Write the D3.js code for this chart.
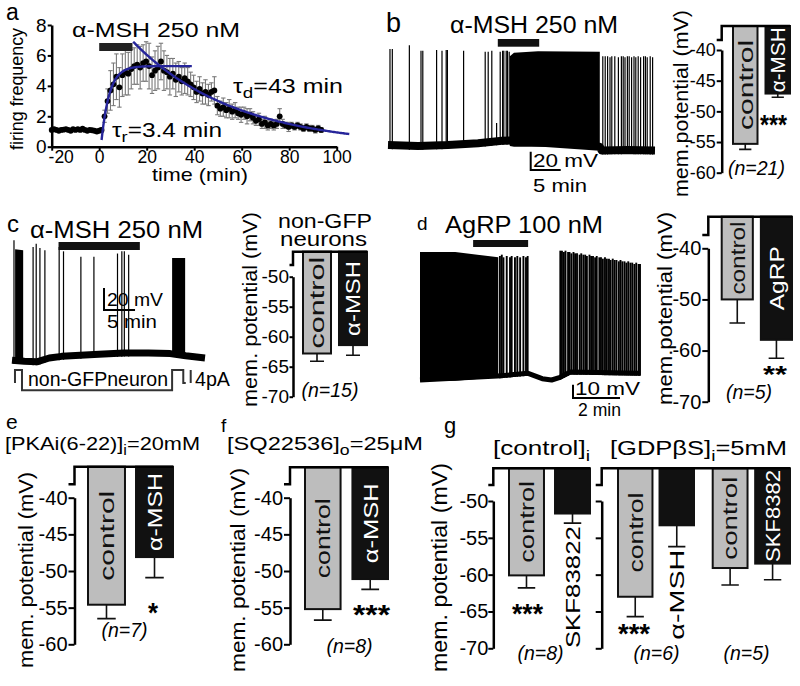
<!DOCTYPE html>
<html>
<head>
<meta charset="utf-8">
<script src="https://cdn.jsdelivr.net/npm/d3@7"></script>
<style>
  body { margin: 0; background: #fff; }
  svg { display: block; font-family: "Liberation Sans", Arial, Helvetica, sans-serif; }
</style>
</head>
<body>
<svg id="fig" width="800" height="686"></svg>
<script>
// ---------------- data: panel a, firing frequency (Hz) ----------------
const aBaseTime = d3.range(-20, 1);
const aBaseFreq = [1.1, 1.15, 1.1, 1.05, 1.1, 1.12, 1.15, 1.1, 1.05, 1.15, 1.1,
  1.15, 1.1, 1.18, 1.1, 1.05, 1.1, 1.08, 1.05, 1.0, 1.05];
const aPostTime = d3.range(1, 94, 1.25);
const aPostFreq = [1.1, 2.0, 3.0, 3.7, 4.1, 4.6, 3.9, 4.7, 4.9, 4.8,
  5.1, 5.3, 5.4, 5.2, 5.5, 5.6, 5.3, 4.7, 5.0, 5.2,
  5.6, 5.0, 4.9, 4.6, 4.8, 4.4, 4.6, 4.3, 4.5, 4.3,
  4.1, 3.9, 3.6, 3.8, 3.5, 3.6, 3.4, 3.6, 3.7, 2.7,
  2.5, 2.6, 2.4, 2.5, 2.3, 2.4, 2.2, 2.1, 2.2, 2.0,
  2.1, 1.9, 1.7, 1.8, 1.5, 1.6, 1.4, 1.5, 1.4, 1.5,
  2.0, 1.5, 1.4, 1.3, 1.4, 1.3, 1.4, 1.3, 1.2, 1.3,
  1.2, 1.2, 1.1, 1.2, 1.1];
const aPostSem = [0.15, 0.4, 0.8,
  1.3, 1.4, 1.5, 1.3, 1.4, 1.5, 1.4, 1.3,
  1.2, 1.3, 1.4, 1.2, 1.3, 1.5, 1.2, 1.3, 1.4, 1.2, 1.3, 1.1, 1.2, 1.0, 1.1, 1.0, 0.9, 1.0, 0.9, 0.8,
  0.8, 0.7, 0.8, 0.7, 0.8, 0.7, 0.6, 0.9,
  0.6, 0.5, 0.6, 0.5, 0.6, 0.5, 0.5, 0.4, 0.5, 0.4, 0.5, 0.4,
  0.4, 0.3, 0.4, 0.3, 0.4, 0.3, 0.3, 0.3, 0.3, 0.5,
  0.3, 0.2, 0.3, 0.2, 0.2, 0.2, 0.2, 0.2, 0.2, 0.2, 0.2, 0.2, 0.2, 0.15];
const aDrug = [0, 14];
const tauRise = 3.4, riseStart = 1, riseBase = 0.44, riseAmp = 4.86, riseEnd = 39;
const tauDecay = 43, decayStart = 14.3, decayAmp = 6.9, decayEnd = 105.5;
const aXTicks = [-20, 0, 20, 40, 60, 80, 100];
const aYTicks = [0, 2, 4, 6, 8];

// ---------------- data: recordings (time in min, potential in mV) ----------------
const bBase = [[0, -55], [5, -56], [10, -55], [15, -53], [19, -50.3], [20.3, -50], [35.3, -57], [35.6, -61], [40, -60.5], [44.5, -61]];
const bSpikes = [0.33, 0.72, 3.56, 5.5, 5.8, 8.1, 9.0, 9.7, 9.9, 12.6, 16.2, 16.7, 17.3, 18.1, 18.7, 19.1, 19.3, 19.7, 19.9, 20.2,
  35.8, 36.2, 36.6, 37.0, 37.3, 37.8, 38.4, 38.9, 39.2, 39.5, 39.9, 40.2, 40.6, 41.0, 41.3, 41.7, 42.1, 42.6, 42.9, 43.2, 43.7, 44.1];
const bPeaks = [50, 50, 54, 48, 48, 49, 48, 49, 49, 48, 47, 47, 48, -31, 47, 48, 48, 48, 48, 47,
  42, 42, 42, 41, 42, 42, 41, 42, 42, 41, 42, 42, 41, 42, 41, 42, 41, 42, 42, 41, 42, 41];
const bBursts = [[[20.3, 42, -56], [21, 46, -57], [25, 47.5, -57], [35.3, 47, -57]]];
const bDrug = [18.3, 25.2];

const cBase = [[0, -64], [2, -65], [4, -65.5], [6, -62], [8, -60.5], [11, -59.5], [14, -58.5], [18, -57.5], [22, -57.5], [25.5, -58], [28, -60], [31.1, -62]];
const cSpikes = [0.32, 3.4, 3.9, 4.5, 5.3, 7.6, 8.3, 11.1, 13.2, 17.0, 17.7, 18.1, 18.8];
const cPeaks = [45, 39, 42, 38, 36, 39, 35, 30, 30, 33, 35, 35, 32];
const cBursts = [[[0.5, 37, -66], [1.8, 36, -66]], [[25.8, 29, -59], [27.9, 29, -59]]];
const cDrug = [7.5, 20.6];
const cCurrent = [[0.48, 0], [0.48, 4], [1.61, 4], [1.61, -2.2], [25.8, -2.2], [25.8, 4], [27.6, 4], [27.6, 0], [28, 0]];

const dBase = [[0, -62], [3.3, -59], [4.6, -57], [5.2, -61], [5.6, -62], [5.96, -60], [6.4, -56], [9.36, -57]];
const dSpikes = [3.40, 3.48, 3.55, 3.69, 3.83, 3.90, 4.04, 4.14, 4.26, 4.40, 4.51, 4.58,
  5.97, 6.04, 6.12, 6.19, 6.30, 6.36, 6.44, 6.53, 6.60, 6.68, 6.79, 6.86, 6.95, 7.03, 7.10, 7.21, 7.28, 7.36, 7.45, 7.52,
  7.63, 7.70, 7.78, 7.87, 7.95, 8.04, 8.11, 8.20, 8.28, 8.36, 8.46, 8.53, 8.61, 8.70, 8.78, 8.86, 8.95, 9.03, 9.12, 9.20, 9.30, 9.36];
const dPeaks = [31, 32, 30, 31, 30, 31, 30, 31, 30, 31, 30, 31,
  35, 35, 34, 35, 34, 34, 33, 34, 33, 33, 32, 33, 32, 32, 31, 32, 31, 31, 30, 31,
  30, 30, 29, 30, 29, 29, 28, 29, 28, 28, 27, 28, 27, 27, 26, 27, 26, 26, 25, 26, 25, 25];
const dBursts = [[[0, 34, -63], [1.5, 34, -62.5], [3.33, 30, -60]]];
const dDrug = [2.26, 4.6];

// ---------------- data: membrane potential bars (mV) ----------------
const bNames = ['control', 'α-MSH'], bMean = [-55.3, -47.1], bSem = [0.9, 0.6];
const cNames = ['control', 'α-MSH'], cMean = [-62.8, -61.4], cSem = [1.3, 1.7];
const dNames = ['control', 'AgRP'], dMean = [-50.0, -57.9], dSem = [4.6, 3.6];
const eNames = ['control', 'α-MSH'], eMean = [-54.6, -48.1], eSem = [1.9, 2.8];
const fNames = ['control', 'α-MSH'], fMean = [-55.2, -51.1], fSem = [1.5, 1.4];
const g1Names = ['control', 'SKF83822'], g1Mean = [-60.1, -51.7], g1Sem = [1.7, 1.3];
const g2Names = ['control', 'α-MSH'], g2Mean = [-63.0, -53.3], g2Sem = [2.7, 2.9];
const g3Names = ['control', 'SKF8382'], g3Mean = [-59.1, -58.5], g3Sem = [2.3, 2.2];
const ticks5_40_60 = [-40, -45, -50, -55, -60];
const ticks5_50_70 = [-50, -55, -60, -65, -70];
const ticks10_40_70 = [-40, -50, -60, -70];

// ---------------- drawing ----------------
const svg = d3.select('#fig');

function label(g, parts, x, y, o = {}) {
  const fs = o.fs || 19;
  const t = g.append('text').attr('x', x).attr('y', y)
    .attr('font-size', fs)
    .attr('text-anchor', o.anchor || 'start')
    .attr('fill', o.fill || '#000');
  if (o.italic) t.attr('font-style', 'italic');
  if (o.bold) t.attr('font-weight', 'bold');
  if (typeof parts === 'string') t.text(parts);
  else {
    let down = false;
    parts.forEach(([s, sub]) => {
      const sp = t.append('tspan').text(s);
      if (sub) {
        sp.attr('font-size', fs * 0.75);
        if (!down) { sp.attr('dy', fs * 0.28); down = true; }
      } else if (down) { sp.attr('dy', -fs * 0.28); down = false; }
    });
  }
  if (o.len) t.attr('textLength', o.len).attr('lengthAdjust', 'spacingAndGlyphs');
  if (o.rot) t.attr('transform', `rotate(-90,${x},${y})`);
  return t;
}

function styleAxis(g, fs, w) {
  g.attr('font-family', null).attr('font-size', null);
  g.select('.domain').attr('stroke-width', w || 2.5).attr('stroke', '#000');
  g.selectAll('.tick line').attr('stroke-width', 2).attr('stroke', '#000');
  g.selectAll('.tick text').attr('font-size', fs).attr('fill', '#000');
}

// ===== panel a =====
{
  const g = svg.append('g');
  const x = d3.scaleLinear().domain([-20, 100]).range([51.7, 336.7]);
  const y = d3.scaleLinear().domain([0, 8]).range([146.7, 25]);
  const post = aPostTime.map((t, i) => ({ t, v: aPostFreq[i], s: aPostSem[i] }));
  const base = aBaseTime.map((t, i) => ({ t, v: aBaseFreq[i] }));

  const eb = g.append('g').attr('stroke', '#7a7a7a').attr('stroke-width', 1.1);
  post.forEach(d => {
    const cx = x(d.t), y1 = y(d.v + d.s), y0 = y(d.v - d.s);
    eb.append('line').attr('x1', cx).attr('x2', cx).attr('y1', y1).attr('y2', y0);
    eb.append('line').attr('x1', cx - 2.2).attr('x2', cx + 2.2).attr('y1', y1).attr('y2', y1);
    eb.append('line').attr('x1', cx - 2.2).attr('x2', cx + 2.2).attr('y1', y0).attr('y2', y0);
  });
  g.selectAll(null).data(base.concat(post)).join('circle')
    .attr('cx', d => x(d.t)).attr('cy', d => y(d.v)).attr('r', 2.9).attr('fill', '#000');

  const riseFit = d3.range(riseStart, riseEnd + 0.01, 0.25)
    .map(t => [t, riseBase + riseAmp * (1 - Math.exp(-(t - riseStart) / tauRise))]);
  const decayFit = d3.range(decayStart, decayEnd + 0.01, 0.5)
    .map(t => [t, decayAmp * Math.exp(-(t - decayStart) / tauDecay)]);
  const line = d3.line().x(d => x(d[0])).y(d => y(d[1]));
  [riseFit, decayFit].forEach(f => g.append('path').datum(f).attr('d', line)
    .attr('fill', 'none').attr('stroke', '#26259a').attr('stroke-width', 2.4));

  const xa = g.append('g').attr('transform', 'translate(0,146.7)')
    .call(d3.axisBottom(x).tickValues(aXTicks).tickSize(4).tickSizeOuter(0).tickPadding(0).tickFormat(String));
  styleAxis(xa, 17.5);
  // the first label sits right of the y axis, as in the original
  xa.selectAll('.tick text').filter(d => d === aXTicks[0]).attr('dx', 9);
  const ya = g.append('g').attr('transform', 'translate(51.7,0)')
    .call(d3.axisLeft(y).tickValues(aYTicks).tickSize(4).tickSizeOuter(0).tickPadding(1).tickFormat(String));
  styleAxis(ya, 19);

  g.append('rect').attr('x', x(aDrug[0])).attr('width', x(aDrug[1]) - x(aDrug[0]))
    .attr('y', 43).attr('height', 8).attr('fill', '#222');

  label(g, 'a', 6, 20, { fs: 23 });
  label(g, 'α-MSH 250 nM', 72, 37, { fs: 19.5, len: 168 });
  label(g, [['τ'], ['d', 1], ['=43 min']], 233, 93, { fs: 19.5, len: 110 });
  label(g, [['τ'], ['r', 1], ['=3.4 min']], 112, 137, { fs: 19.5, len: 110 });
  label(g, 'firing frequency', 23, 89, { fs: 18, len: 122, anchor: 'middle', rot: true });
  label(g, 'time (min)', 200, 181, { fs: 19, len: 96, anchor: 'middle' });
}

// ===== recordings =====
function drawTrace(g, xs, ys, base, spikes, peaks, bursts, baseW, spikeW) {
  const baseAt = d3.scaleLinear().domain(base.map(d => d[0])).range(base.map(d => d[1]));
  g.append('path').datum(base)
    .attr('d', d3.line().x(d => xs(d[0])).y(d => ys(d[1])))
    .attr('fill', 'none').attr('stroke', '#000').attr('stroke-width', baseW).attr('stroke-linejoin', 'round');
  bursts.forEach(b => g.append('path').datum(b)
    .attr('d', d3.area().x(d => xs(d[0])).y0(d => ys(d[2])).y1(d => ys(d[1])))
    .attr('fill', '#000'));
  g.selectAll(null).data(spikes).join('line')
    .attr('x1', d => xs(d)).attr('x2', d => xs(d))
    .attr('y1', d => ys(baseAt(d)) + baseW / 2).attr('y2', (d, i) => ys(peaks[i]))
    .attr('stroke', '#000').attr('stroke-width', spikeW || 1.3);
}

function scaleBar(g, x0, y0, w, h) {
  g.append('path').attr('d', `M${x0},${y0 - h}V${y0}H${x0 + w}`)
    .attr('fill', 'none').attr('stroke', '#000').attr('stroke-width', 2);
}

// panel b trace
{
  const g = svg.append('g');
  const x = d3.scaleLinear().domain([0, 44.5]).range([388, 655]);
  const y = d3.scaleLinear().domain([-55, 50]).range([145, 49]);
  drawTrace(g, x, y, bBase, bSpikes, bPeaks, bBursts, 8, 1.2);
  g.append('rect').attr('x', x(bDrug[0])).attr('width', x(bDrug[1]) - x(bDrug[0]))
    .attr('y', 39).attr('height', 7.7).attr('fill', '#111');
  scaleBar(g, 530.7, 170, x(5) - x(0), y(-20) - y(0));
  label(g, 'b', 386, 32, { fs: 27 });
  label(g, 'α-MSH 250 nM', 450, 33.3, { fs: 23, len: 168 });
  label(g, '20 mV', 533, 166.7, { fs: 19, len: 65 });
  label(g, '5 min', 533, 191.7, { fs: 19, len: 54 });
}

// panel c trace
{
  const g = svg.append('g');
  const x = d3.scaleLinear().domain([0, 31.1]).range([12, 205]);
  const y = d3.scaleLinear().domain([-62, 45.3]).range([358, 240]);
  drawTrace(g, x, y, cBase, cSpikes, cPeaks, cBursts, 7, 1.2);
  g.append('rect').attr('x', x(cDrug[0])).attr('width', x(cDrug[1]) - x(cDrug[0]))
    .attr('y', 242).attr('height', 8).attr('fill', '#111');
  scaleBar(g, 104, 310, x(5) - x(0), y(-20) - y(0));
  const yi = d3.scaleLinear().domain([0, 4]).range([383, 370]);
  g.append('path').datum(cCurrent).attr('d', d3.line().x(d => x(d[0])).y(d => yi(d[1])))
    .attr('fill', 'none').attr('stroke', '#333').attr('stroke-width', 2);
  g.append('line').attr('x1', 190.7).attr('x2', 190.7).attr('y1', yi(0)).attr('y2', yi(4))
    .attr('stroke', '#333').attr('stroke-width', 2);
  label(g, 'c', 7, 232, { fs: 24 });
  label(g, 'α-MSH 250 nM', 30, 238.3, { fs: 23, len: 173 });
  label(g, '20 mV', 107, 305.7, { fs: 19, len: 56 });
  label(g, '5 min', 107, 327.7, { fs: 19, len: 50 });
  label(g, 'non-GFPneuron', 28, 386, { fs: 21, len: 140 });
  label(g, '4pA', 195, 386, { fs: 21, len: 35 });
}

// panel d trace
{
  const g = svg.append('g');
  const x = d3.scaleLinear().domain([0, 9.36]).range([420, 640]);
  const y = d3.scaleLinear().domain([-62, 34]).range([380, 252]);
  drawTrace(g, x, y, dBase, dSpikes, dPeaks, dBursts, 5, 1.9);
  g.append('rect').attr('x', x(dDrug[0])).attr('width', x(dDrug[1]) - x(dDrug[0]))
    .attr('y', 240).attr('height', 7).attr('fill', '#111');
  scaleBar(g, 573, 398, x(2) - x(0), y(-10) - y(0));
  label(g, 'd', 417, 230, { fs: 19 });
  label(g, 'AgRP 100 nM', 445, 233.3, { fs: 23, len: 158 });
  label(g, '10 mV', 575, 395, { fs: 19, len: 65 });
  label(g, '2 min', 578, 416, { fs: 18.5, len: 43 });
}

// ===== bar charts =====
function drawBarAxis(a, y) {
  const g = svg.append('g');
  const axis = d3.axisLeft(y).tickValues(a.ticks).tickSize(a.tick).tickSizeOuter(0).tickPadding(a.pad)
    .tickFormat(a.labels ? String : '');
  const ag = g.append('g').attr('transform', `translate(${a.x},0)`).call(axis);
  styleAxis(ag, a.fs);
  g.append('path').attr('d', `M${a.x - a.tick},${a.brk}H${a.x}V${a.top}H${a.end}`)
    .attr('fill', 'none').attr('stroke', '#000').attr('stroke-width', 2.5);
}

function drawBars(y, a, p) {
  const g = svg.append('g');
  const xb = d3.scaleBand().domain(p.names).range(p.range).paddingInner(p.gap).paddingOuter(0);
  const w = xb.bandwidth();
  p.names.forEach((name, i) => {
    const x0 = xb(name), cx = x0 + w / 2;
    const yb = y(p.mean[i]), ye = y(p.mean[i] - p.sem[i]);
    const grey = name === 'control';
    g.append('rect').attr('x', x0).attr('y', a.top).attr('width', w).attr('height', yb - a.top)
      .attr('fill', grey ? '#bdbdbd' : '#111').attr('stroke', '#111').attr('stroke-width', 2);
    g.append('path').attr('d', `M${cx},${yb}V${ye}M${cx - w * 0.25},${ye}H${cx + w * 0.25}`)
      .attr('stroke', '#111').attr('stroke-width', 1.6).attr('fill', 'none');
    const lb = p.lab[i], fs = lb.fs || 21;
    if (lb.out) {
      label(g, name, cx + fs * 0.35, ye + 3, { fs, len: lb.len, anchor: 'end', rot: true });
    } else {
      label(g, name, cx + fs * 0.35, (a.top + yb) / 2, {
        fs, len: lb.len, anchor: 'middle', rot: true, fill: grey ? '#111' : '#fff'
      });
    }
  });
  if (p.sig) {
    const sf = p.sig.fs || 28;
    label(g, p.sig.s, p.sig.x, p.sig.y + sf * 0.58, { fs: sf, len: p.sig.len, anchor: 'middle', bold: true });
  }
  if (p.n) label(g, p.n.s, p.n.x, p.n.y, { fs: 19.5, anchor: 'middle', italic: true });
}

function barPanel(a, groups) {
  const y = d3.scaleLinear().domain(a.domain).range(a.range);
  groups.forEach(p => drawBars(y, a, p));
  drawBarAxis(a, y);
}

// b
barPanel({ x: 721.7, top: 26, brk: 40, end: 790, domain: [-60, -40], range: [172.7, 50], ticks: ticks5_40_60, tick: 5, pad: 1, fs: 18, labels: true },
  [{ names: bNames, mean: bMean, sem: bSem, range: [733, 790], gap: 0.246, lab: [{ len: 90 }, { len: 65 }],
     sig: { s: '***', x: 773.5, y: 117.5, len: 27 }, n: { s: '(n=21)', x: 756.5, y: 175 } }]);
label(svg, 'mem.potential (mV)', 688, 103.5, { fs: 21, len: 187, anchor: 'middle', rot: true });

// c
barPanel({ x: 293, top: 251.7, brk: 265, end: 367, domain: [-70, -50], range: [396.7, 276.7], ticks: ticks5_50_70, tick: 3.5, pad: 0.5, fs: 19, labels: true },
  [{ names: cNames, mean: cMean, sem: cSem, range: [303, 367], gap: 0.222, lab: [{ len: 92 }, { len: 75 }],
     n: { s: '(n=15)', x: 330, y: 396.7 } }]);
label(svg, 'mem. potential (mV)', 257, 309.5, { fs: 21, len: 195, anchor: 'middle', rot: true });
label(svg, 'non-GFP', 325, 227.7, { fs: 20, len: 94, anchor: 'middle' });
label(svg, 'neurons', 323.5, 246, { fs: 20, len: 87, anchor: 'middle' });

// d
barPanel({ x: 708.3, top: 216.7, brk: 235, end: 792, domain: [-70, -40], range: [401.7, 248.3], ticks: ticks10_40_70, tick: 6, pad: 1, fs: 20, labels: true },
  [{ names: dNames, mean: dMean, sem: dSem, range: [721.7, 792], gap: 0.205, lab: [{ len: 73 }, { len: 64 }],
     sig: { s: '**', x: 775, y: 369.5, len: 24, fs: 24 }, n: { s: '(n=5)', x: 749, y: 398.5 } }]);
label(svg, 'mem.potential (mV)', 672, 308.5, { fs: 21, len: 193, anchor: 'middle', rot: true });

// e
barPanel({ x: 74.5, top: 466.7, brk: 484.3, end: 173, domain: [-60, -40], range: [644.3, 497.7], ticks: ticks5_40_60, tick: 6, pad: 1, fs: 20, labels: true },
  [{ names: eNames, mean: eMean, sem: eSem, range: [88, 173], gap: 0.23, lab: [{ len: 90 }, { len: 78 }],
     sig: { s: '*', x: 153, y: 606, len: 10 }, n: { s: '(n=7)', x: 124.5, y: 636.7 } }]);
label(svg, 'e', 6, 428.5, { fs: 21 });
label(svg, [['[PKAi(6-22)]'], ['i', 1], ['=20mM']], 5, 450, { fs: 18.5, len: 195 });
label(svg, 'mem. potential (mV)', 32.5, 570, { fs: 21, len: 196, anchor: 'middle', rot: true });

// f
barPanel({ x: 290, top: 467.3, brk: 484.3, end: 388, domain: [-60, -40], range: [644.3, 497.7], ticks: ticks5_40_60, tick: 6, pad: 1, fs: 20, labels: true },
  [{ names: fNames, mean: fMean, sem: fSem, range: [305, 388], gap: 0.25, lab: [{ len: 80 }, { len: 80 }],
     sig: { s: '***', x: 371.5, y: 608, len: 37 }, n: { s: '(n=8)', x: 349.5, y: 653.3 } }]);
label(svg, 'f', 221, 432, { fs: 19 });
label(svg, [['[SQ22536]'], ['o', 1], ['=25μM']], 227, 450, { fs: 18.5, len: 196 });
label(svg, 'mem. potential (mV)', 245, 570, { fs: 21, len: 204, anchor: 'middle', rot: true });

// g
barPanel({ x: 493.3, top: 468.3, brk: 485, end: 590, domain: [-70, -50], range: [648.3, 501], ticks: ticks5_50_70, tick: 5, pad: 0, fs: 20, labels: true },
  [{ names: g1Names, mean: g1Mean, sem: g1Sem, range: [509, 590], gap: 0.24, lab: [{ len: 82 }, { len: 122, out: true }],
     sig: { s: '***', x: 527.5, y: 607, len: 31 }, n: { s: '(n=8)', x: 540.5, y: 660 } }]);
barPanel({ x: 601.7, top: 468.3, brk: 485, end: 790, domain: [-70, -50], range: [648.3, 501], ticks: ticks5_50_70, tick: 6, pad: 0, fs: 20, labels: false },
  [{ names: g2Names, mean: g2Mean, sem: g2Sem, range: [618, 694], gap: 0.17, lab: [{ len: 80 }, { len: 90, out: true }],
     sig: { s: '***', x: 634, y: 627, len: 32 }, n: { s: '(n=6)', x: 656.5, y: 660 } },
   { names: g3Names, mean: g3Mean, sem: g3Sem, range: [712.7, 790], gap: 0.18, lab: [{ len: 83 }, { len: 92 }],
     n: { s: '(n=5)', x: 746.5, y: 660 } }]);
label(svg, 'g', 444, 433, { fs: 22 });
label(svg, [['[control]'], ['i', 1]], 493, 455, { fs: 20, len: 97 });
label(svg, [['[GDPβS]'], ['i', 1], ['=5mM']], 610, 455, { fs: 20, len: 177 });
label(svg, 'mem. potential (mV)', 447, 567.5, { fs: 22, len: 209, anchor: 'middle', rot: true });
</script>
</body>
</html>
